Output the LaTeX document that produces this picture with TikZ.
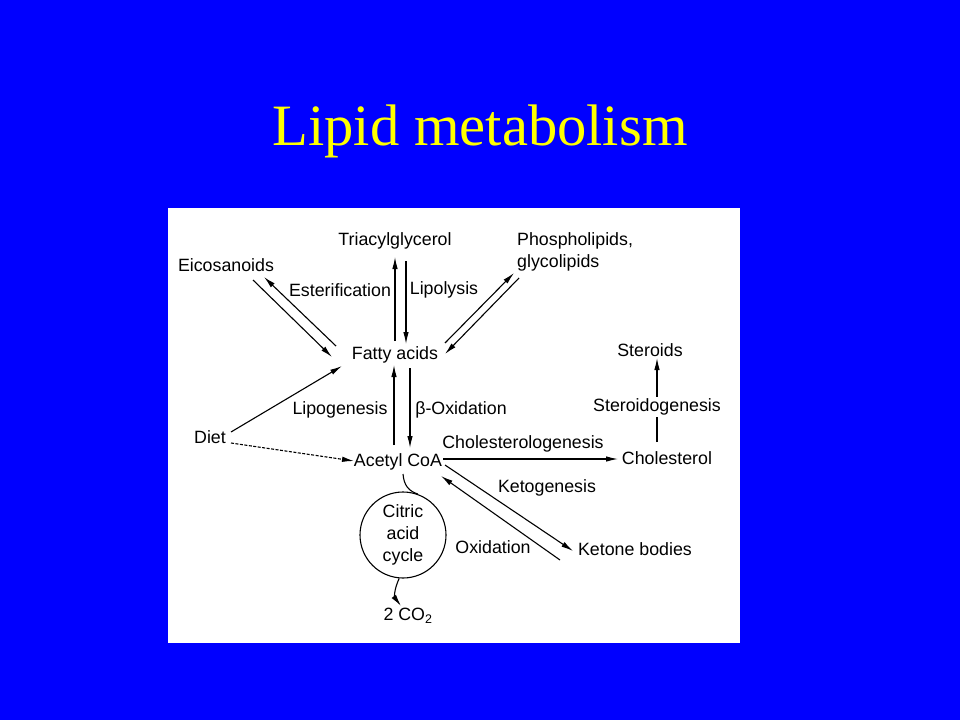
\documentclass[tikz,border=0pt]{standalone}
\usepackage{fontspec}
\setmainfont{Liberation Serif}
\newfontfamily\labelfont{Liberation Sans}
\usetikzlibrary{arrows.meta}
\definecolor{slideblue}{RGB}{0,0,255}
\definecolor{slideyellow}{RGB}{255,255,0}
\tikzset{
  met/.style={font=\labelfont\fontsize{17.8}{22}\selectfont, inner sep=0pt},
  conv/.style={line width=1.1pt, -{Latex[length=12pt,width=5.5pt]}},
}

\begin{document}
\begin{tikzpicture}[x=1pt,y=-1pt]

	\fill[slideblue] (0,0) rectangle (960,720);
	\useasboundingbox (0,0) rectangle (960,720);
	\node[font=\fontsize{58.6}{60}\selectfont, text=slideyellow, anchor=base] (title) at (480,145) {Lipid metabolism};
	\fill[white] (168,208) rectangle (740,643);

	% compounds
	\node[met] (TAG) at (395,241) {Triacylglycerol};
	\node[met] (EIC) at (226,265) {Eicosanoids};
	\node[met, anchor=west, align=left] (PL) at (517,252) {Phospholipids,\\glycolipids};
	\node[met] (FA) at (395,355) {Fatty acids};
	\node[met] (DIET) at (210,437) {Diet};
	\node[met] (ACOA) at (398,462) {Acetyl CoA};
	\node[met] (CHL) at (667,458) {Cholesterol};
	\node[met] (STER) at (650,350) {Steroids};
	\node[met] (KB) at (635,549) {Ketone bodies};
	\node[met] (CO2) at (408,616) {2 CO\textsubscript{2}};
	\node[met, circle, draw, line width=1.1pt, minimum size=86pt, align=center] (TCA) at (403,535) {Citric\\acid\\cycle};

	% end points of the paired arrows
	\coordinate (A1) at (395,341);
	\coordinate (A2) at (395,257);
	\coordinate (B1) at (406,261);
	\coordinate (B2) at (406,344);
	\coordinate (C1) at (253,280);
	\coordinate (C2) at (332,357);
	\coordinate (D1) at (336,346);
	\coordinate (D2) at (264,277);
	\coordinate (E1) at (445,343);
	\coordinate (E2) at (514,273);
	\coordinate (F1) at (519,278);
	\coordinate (F2) at (445,354);
	\coordinate (G1) at (231,432);
	\coordinate (G2) at (342,366);
	\coordinate (H1) at (231,443);
	\coordinate (H2) at (354,461);
	\coordinate (J1) at (394,445);
	\coordinate (J2) at (394,365);
	\coordinate (K1) at (410,368);
	\coordinate (K2) at (410,448);
	\coordinate (L1) at (443,459);
	\coordinate (L2) at (618,459);
	\coordinate (M1) at (657,442);
	\coordinate (M2) at (657,358);
	\coordinate (N1) at (445,465);
	\coordinate (N2) at (573,551);
	\coordinate (P1) at (560,560);
	\coordinate (P2) at (441,476);
	\coordinate (Q1) at (403,474);
	\coordinate (Q2) at (401,606);

	\draw[conv] (A1) -- (A2);
	\draw[conv] (B1) -- (B2);
	\draw[conv] (C1) -- (C2);
	\draw[conv] (D1) -- (D2);
	\draw[conv] (E1) -- (E2);
	\draw[conv] (F1) -- (F2);
	\draw[conv] (G1) -- (G2);
	\draw[conv, dash pattern=on 3pt off 1.5pt] (H1) -- (H2);
	\draw[conv] (J1) -- (J2);
	\draw[conv] (K1) -- (K2);
	\draw[conv] (L1) -- (L2);
	\draw[conv] (M1) -- (M2);
	\draw[conv] (N1) -- (N2);
	\draw[conv] (P1) -- (P2);

	\draw[line width=1.1pt] (Q1) .. controls (404,486) and (409,491) .. (TCA.70);
	\draw[conv] (TCA.265) .. controls (393,592) and (395,598) .. (Q2);

	% process labels
	\node[met] (ESTER) at (340,290) {Esterification};
	\node[met] (LIPOL) at (444,290) {Lipolysis};
	\node[met] (LIPOG) at (340,410) {Lipogenesis};
	\node[met] (BOX) at (461,410) {β-Oxidation};
	\node[met] (CHLG) at (523,444) {Cholesterologenesis};
	\node[met, fill=white, inner sep=2pt] (STDG) at (657,407) {Steroidogenesis};
	\node[met] (KETG) at (547,488) {Ketogenesis};
	\node[met] (OXID) at (493,547) {Oxidation};

\end{tikzpicture}
\end{document}
